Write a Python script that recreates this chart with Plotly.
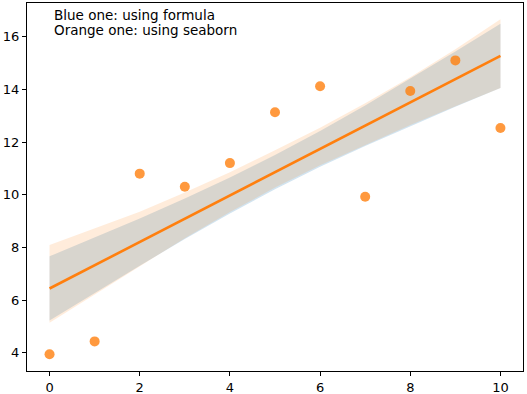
import plotly.graph_objects as go
import numpy as np

x_vals = [0, 1, 2, 3, 4, 5, 6, 7, 8, 9, 10]
y_vals = [3.94, 4.43, 10.80, 10.30, 11.20, 13.13, 14.12, 9.92, 13.94, 15.10, 12.53]

# band edges
blue_lower = [5.22, 6.27, 7.30, 8.32, 9.29, 10.21, 11.06, 11.85, 12.61, 13.34, 14.05]
blue_upper = [7.66, 8.37, 9.10, 9.86, 10.65, 11.51, 12.42, 13.39, 14.41, 15.44, 16.49]
orange_lower = [5.14, 6.22, 7.30, 8.35, 9.34, 10.27, 11.12, 11.90, 12.65, 13.36, 14.05]
orange_upper = [8.09, 8.72, 9.35, 10.08, 10.85, 11.69, 12.54, 13.47, 14.46, 15.52, 16.66]

x_ticks = [0, 2, 4, 6, 8, 10]
y_ticks = [4, 6, 8, 10, 12, 14, 16]

text_lines = ["Blue one: using formula", "Orange one: using seaborn"]

slope, intercept = np.polyfit(x_vals, y_vals, 1)
fit_y = [intercept + slope * xv for xv in x_vals]

fig = go.Figure()

# blue band
fig.add_trace(go.Scatter(x=x_vals, y=blue_lower, mode="lines", line=dict(width=0),
                         showlegend=False, hoverinfo="skip"))
fig.add_trace(go.Scatter(x=x_vals, y=blue_upper, mode="lines", line=dict(width=0),
                         fill="tonexty", fillcolor="rgba(31,119,180,0.2)",
                         showlegend=False, hoverinfo="skip"))
# orange band
fig.add_trace(go.Scatter(x=x_vals, y=orange_lower, mode="lines", line=dict(width=0),
                         showlegend=False, hoverinfo="skip"))
fig.add_trace(go.Scatter(x=x_vals, y=orange_upper, mode="lines", line=dict(width=0),
                         fill="tonexty", fillcolor="rgba(255,127,14,0.15)",
                         showlegend=False, hoverinfo="skip"))

# points
fig.add_trace(go.Scatter(x=x_vals, y=y_vals, mode="markers",
                         marker=dict(color="rgba(255,127,14,0.8)", size=10, line=dict(width=0)),
                         showlegend=False))
# regression line
fig.add_trace(go.Scatter(x=x_vals, y=fit_y, mode="lines",
                         line=dict(color="#ff7f0e", width=2.6), showlegend=False))

axis_common = dict(
    showgrid=False, zeroline=False, showline=True, linecolor="black", linewidth=1,
    mirror=True, ticks="outside", ticklen=4, tickwidth=1, tickcolor="black",
    tickfont=dict(family="DejaVu Sans", size=13, color="black"), automargin=False,
)

fig.update_xaxes(range=[-0.5, 10.5], tickvals=x_ticks, ticktext=[str(t) for t in x_ticks], **axis_common)
fig.update_yaxes(range=[3.305, 17.28], tickvals=y_ticks, ticktext=[str(t) for t in y_ticks], **axis_common)

W, H = 527, 394
L, R, T, B = 27, 4, 3, 23
pw, ph = W - L - R, H - T - B
for i, t in enumerate(text_lines):
    px, py = 52, 5 + 15 * i
    fig.add_annotation(x=(px - L) / pw, y=1 - (py - T) / ph, xref="paper", yref="paper",
                       text=t, showarrow=False, xanchor="left", yanchor="top",
                       font=dict(family="DejaVu Sans", size=13.5, color="black"))

fig.update_layout(
    width=W, height=H,
    margin=dict(l=L, r=R, t=T, b=B),
    paper_bgcolor="white", plot_bgcolor="white",
)

fig.write_html("out.html", config={"displayModeBar": False},
               post_script="document.body.style.margin='0';document.body.style.padding='0';")
